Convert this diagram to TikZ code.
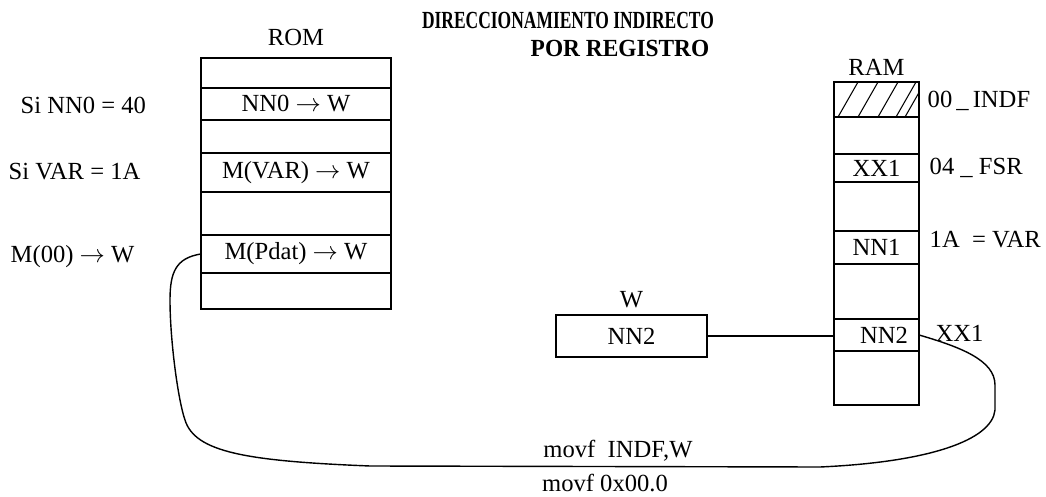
\documentclass[tikz,border=0pt]{standalone}
\usepackage{fontspec}
\setmainfont{Liberation Serif}
\usetikzlibrary{positioning}

\begin{document}
\begin{tikzpicture}[x=0.02cm,y=-0.02cm,line width=0.8pt,
  every node/.style={font=\fontsize{14}{16}\selectfont},
  romcell/.style={draw,minimum width=3.8cm,inner sep=0pt,outer sep=0pt},
  ramcell/.style={draw,minimum width=1.7cm,inner sep=0pt,outer sep=0pt},
  note/.style={anchor=west,inner sep=0pt},
  titletext/.style={font=\bfseries\fontsize{14}{16}\selectfont}]
  \useasboundingbox (0,0) rectangle (1046,497);
  % title
  \node[titletext] (title1) at (568,20) {\scalebox{0.71}[1]{DIRECCIONAMIENTO INDIRECTO}};
  \node[titletext] (title2) at (620,48) {\scalebox{0.95}[1]{POR REGISTRO}};
  % ROM
  \node[romcell,minimum height=0.6cm] (rom1) at (296,73) {};
  \node[romcell,minimum height=0.64cm,below=0pt of rom1] (rom2) {NN0 $\rightarrow$ W};
  \node[romcell,minimum height=0.66cm,below=0pt of rom2] (rom3) {};
  \node[romcell,minimum height=0.78cm,below=0pt of rom3] (rom4) {M(VAR) $\rightarrow$ W};
  \node[romcell,minimum height=0.86cm,below=0pt of rom4] (rom5) {};
  \node[romcell,minimum height=0.76cm,below=0pt of rom5] (rom6) {M(Pdat) $\rightarrow$ W};
  \node[romcell,minimum height=0.72cm,below=0pt of rom6] (rom7) {};
  \node[above=3pt of rom1] (romlbl) {ROM};
  \node[note] (sinn) at (20,105) {Si NN0 = 40};
  \node[note] (sivar) at (8,172) {Si VAR = 1A};
  \node[note] (m00) at (10,257) {M(00) $\rightarrow$ W};
  % RAM
  \node[ramcell,minimum height=0.7cm] (ram1) at (876.5,99.5) {};
  \node[ramcell,minimum height=0.74cm,below=0pt of ram1] (ram2) {};
  \node[ramcell,minimum height=0.56cm,below=0pt of ram2] (ram3) {XX1};
  \node[ramcell,minimum height=0.98cm,below=0pt of ram3] (ram4) {};
  \node[ramcell,minimum height=0.66cm,below=0pt of ram4] (ram5) {NN1};
  \node[ramcell,minimum height=1.1cm,below=0pt of ram5] (ram6) {};
  \node[ramcell,minimum height=0.64cm,below=0pt of ram6] (ram7) {\hspace{0.3cm}NN2};
  \node[ramcell,minimum height=1.08cm,below=0pt of ram7] (ram8) {};
  \node[above=0pt of ram1] (ramlbl) {RAM};
  \begin{scope}
    \clip (ram1.south west) rectangle (ram1.north east);
    \foreach \xb in {838,858,878,896,905}
      \draw[line width=0.6pt] (\xb,117) -- ++(20,-35);
  \end{scope}
  \node[note] (indf) at (927,101) {00\,\_\,INDF};
  \node[note] (fsr) at (929,168) {04 \_ FSR};
  \node[note] (var) at (929,240) {1A\enspace= VAR};
  \node[note] (xx1) at (935,333) {XX1};
  % W register
  \node[draw,minimum width=3.02cm,minimum height=0.84cm,inner sep=0pt] (wbox) at (631.5,336) {NN2};
  \node[above=0pt of wbox] (wlbl) {W};
  \draw (wbox.east) -- (wbox.east -| ram7.west);
  % indirect access path
  \draw (rom6.west) .. controls (176,258) and (170,272) .. (170,300)
    .. controls (170,340) and (178,400) .. (185,420)
    .. controls (195,452) and (245,461) .. (370,466) -- (820,467)
    .. controls (930,462) and (992,440) .. (995,410) -- (995,385)
    .. controls (995,360) and (960,347) .. (ram7.east);
  \node (movf1) at (618,451) {movf\enspace INDF,W};
  \node[inner sep=0.5pt] (movf2) at (605,483) {movf 0x00.0};
\end{tikzpicture}
\end{document}
